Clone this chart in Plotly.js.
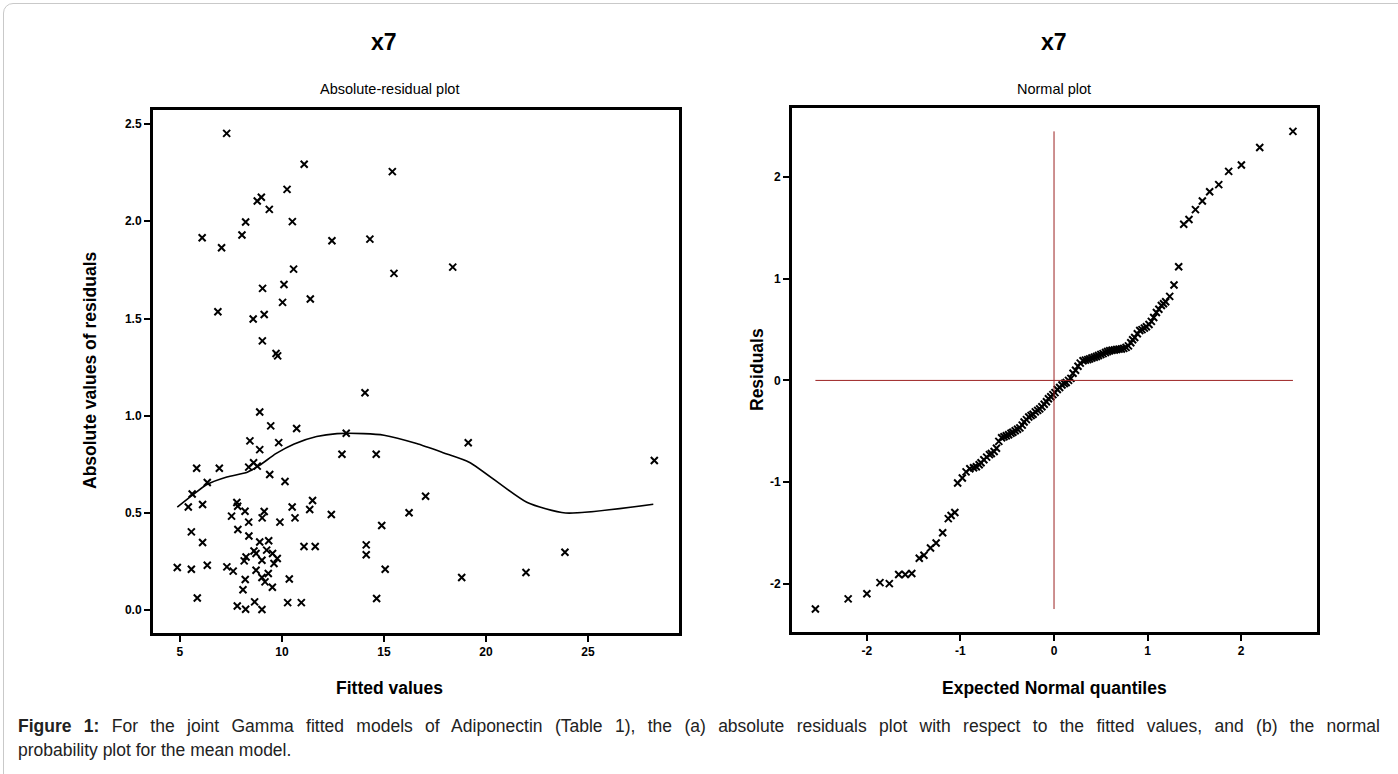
<!DOCTYPE html>
<html>
<head>
<meta charset="utf-8">
<script src="https://cdn.plot.ly/plotly-3.0.1.min.js"></script>
<style>
html,body{margin:0;padding:0;background:#fff;}
#frame{position:absolute;left:3px;top:3px;width:1500px;height:900px;border:1px solid #c9c9c9;border-radius:10px;}
#chart{position:absolute;left:0;top:0;width:1398px;height:774px;}
.cap{position:absolute;left:18px;width:1362px;font-family:'Liberation Sans',Arial,sans-serif;font-size:17.5px;line-height:24px;color:#222;white-space:nowrap;}
#cap1{top:714px;text-align:justify;text-align-last:justify;white-space:normal;}
#cap2{top:738px;}
</style>
</head>
<body>
<div id="frame"></div>
<div id="chart"></div>
<div id="cap1" class="cap"><b>Figure 1:</b> For the joint Gamma fitted models of Adiponectin (Table 1), the (a) absolute residuals plot with respect to the fitted values, and (b) the normal</div>
<div id="cap2" class="cap">probability plot for the mean model.</div>
<script>
// Panel (a): absolute residuals vs fitted values
const fittedValues = [7.29,11.09,15.41,10.25,8.79,8.99,9.38,8.22,10.51,6.09,8.04,7.04,12.45,14.31,18.37,10.57,15.49,9.05,10.10,11.39,10.03,6.86,8.59,9.13,9.04,9.71,9.79,14.07,8.91,9.45,10.72,13.15,19.13,8.43,9.84,8.91,12.94,14.62,5.82,6.93,8.37,8.61,8.79,9.40,10.15,6.34,5.60,5.41,6.11,7.79,7.83,17.04,11.50,11.36,10.50,10.64,9.13,9.03,8.19,7.53,8.37,9.90,12.42,16.23,14.89,5.56,7.84,8.38,6.11,8.91,9.35,11.08,11.63,14.13,14.13,8.63,8.73,9.25,9.54,9.77,8.24,8.15,9.02,9.61,4.87,5.56,6.34,7.30,7.61,8.73,9.33,9.02,9.17,8.20,10.36,15.06,18.81,9.53,8.09,5.85,14.64,7.81,8.22,8.66,9.02,10.28,10.95,28.25,23.87,21.96];
const absResiduals = [2.452,2.293,2.255,2.164,2.104,2.123,2.061,1.996,1.998,1.915,1.929,1.864,1.900,1.908,1.764,1.754,1.732,1.655,1.675,1.600,1.583,1.535,1.497,1.521,1.385,1.320,1.308,1.118,1.019,0.948,0.934,0.910,0.861,0.871,0.862,0.826,0.802,0.802,0.730,0.730,0.736,0.758,0.741,0.698,0.662,0.657,0.598,0.531,0.544,0.554,0.535,0.586,0.564,0.518,0.531,0.475,0.508,0.475,0.509,0.484,0.453,0.453,0.492,0.501,0.436,0.403,0.415,0.382,0.348,0.351,0.357,0.328,0.328,0.336,0.285,0.305,0.292,0.309,0.292,0.266,0.274,0.254,0.257,0.240,0.220,0.211,0.231,0.223,0.201,0.206,0.189,0.168,0.146,0.158,0.161,0.211,0.168,0.118,0.105,0.063,0.060,0.022,0.005,0.043,0.004,0.039,0.039,0.770,0.298,0.194];
// smooth (lowess) curve
const smoothX = [4.87,5.6,6.3,7.3,8.3,8.9,9.7,10.6,11.7,12.7,14.0,15.0,16.6,17.9,19.2,22.0,23.9,28.2];
const smoothY = [0.53,0.59,0.645,0.685,0.71,0.745,0.805,0.855,0.893,0.908,0.908,0.90,0.857,0.81,0.76,0.555,0.50,0.545];

// Panel (b): normal probability plot
const normalQuantiles = [-2.55,-2.20,-2.00,-1.86,-1.76,-1.66,-1.59,-1.52,-1.44,-1.39,-1.32,-1.26,-1.19,-1.13,-1.10,-1.06,-1.03,-0.98,-0.94,-0.90,-0.86,-0.83,-0.80,-0.78,-0.75,-0.72,-0.69,-0.67,-0.64,-0.615,-0.59,-0.56,-0.535,-0.51,-0.485,-0.46,-0.44,-0.415,-0.39,-0.365,-0.34,-0.32,-0.295,-0.27,-0.245,-0.224,-0.20,-0.175,-0.153,-0.13,-0.105,-0.081,-0.06,-0.035,-0.012,0.01,0.035,0.06,0.085,0.11,0.13,0.155,0.18,0.203,0.23,0.256,0.28,0.31,0.335,0.36,0.381,0.405,0.43,0.453,0.475,0.50,0.524,0.55,0.572,0.595,0.62,0.645,0.67,0.695,0.72,0.745,0.77,0.795,0.82,0.84,0.862,0.89,0.916,0.94,0.965,0.987,1.015,1.04,1.065,1.094,1.12,1.147,1.17,1.193,1.236,1.282,1.332,1.386,1.442,1.511,1.585,1.663,1.76,1.866,2.002,2.198,2.553];
const residuals = [-2.25,-2.15,-2.10,-1.99,-2.00,-1.91,-1.91,-1.90,-1.75,-1.72,-1.65,-1.60,-1.50,-1.36,-1.33,-1.30,-1.01,-0.96,-0.90,-0.87,-0.86,-0.85,-0.83,-0.81,-0.78,-0.755,-0.73,-0.72,-0.70,-0.667,-0.60,-0.565,-0.555,-0.545,-0.535,-0.52,-0.51,-0.495,-0.48,-0.467,-0.44,-0.41,-0.386,-0.36,-0.345,-0.333,-0.31,-0.295,-0.28,-0.26,-0.235,-0.21,-0.18,-0.16,-0.14,-0.12,-0.09,-0.07,-0.045,-0.03,-0.02,0.0,0.02,0.07,0.10,0.14,0.17,0.194,0.20,0.205,0.212,0.22,0.228,0.236,0.245,0.255,0.264,0.275,0.285,0.292,0.297,0.30,0.304,0.308,0.31,0.315,0.325,0.34,0.37,0.40,0.422,0.46,0.492,0.50,0.515,0.528,0.55,0.581,0.62,0.668,0.70,0.738,0.755,0.774,0.827,0.939,1.118,1.537,1.583,1.681,1.765,1.856,1.927,2.057,2.12,2.292,2.451];

const leftTicks = [5,10,15,20,25];
const leftYTicks = [0,0.5,1.0,1.5,2.0,2.5];
const leftYTickLabels = ['0.0','0.5','1.0','1.5','2.0','2.5'];
const rightTicks = [-2,-1,0,1,2];
const rightTickLabels = ['-2','-1','0','1','2'];

const FONT = 'Liberation Sans, Arial, sans-serif';
const marker = {symbol:'x-thin-open', size:7, color:'#000', line:{width:2, color:'#000'}};

const traces = [
  {x: fittedValues, y: absResiduals, type:'scatter', mode:'markers', marker: marker, xaxis:'x', yaxis:'y'},
  {x: smoothX, y: smoothY, type:'scatter', mode:'lines', line:{color:'#000', width:1.6, shape:'spline', smoothing:0.6}, xaxis:'x', yaxis:'y'},
  {x: normalQuantiles, y: residuals, type:'scatter', mode:'markers', marker: marker, xaxis:'x2', yaxis:'y2'}
];

const qMin = Math.min(...normalQuantiles), qMax = Math.max(...normalQuantiles);
const rMin = Math.min(...residuals), rMax = Math.max(...residuals);

const axisCommon = {
  showline:true, linecolor:'#000', linewidth:3, mirror:true,
  ticks:'outside', ticklen:6, tickwidth:2, tickcolor:'#000',
  showgrid:false, zeroline:false,
  tickfont:{family:FONT, size:12, color:'#000', weight:'bold'}
};

function ann(text, x, y, size, extra) {
  return Object.assign({text:text, xref:'paper', yref:'paper', x:x/1398, y:1-y/774,
    xanchor:'center', yanchor:'middle', showarrow:false, font:{family:FONT, size:size, color:'#000'}}, extra || {});
}

const layout = {
  width:1398, height:774,
  margin:{l:0,r:0,t:0,b:0},
  paper_bgcolor:'rgba(0,0,0,0)', plot_bgcolor:'#fff',
  showlegend:false,
  xaxis: Object.assign({}, axisCommon, {domain:[153/1398, 679/1398], range:[3.68,29.46], tickvals:leftTicks, anchor:'y'}),
  yaxis: Object.assign({}, axisCommon, {domain:[(774-633)/774, (774-110)/774], range:[-0.117,2.572], tickvals:leftYTicks, ticktext:leftYTickLabels, anchor:'x'}),
  xaxis2: Object.assign({}, axisCommon, {domain:[792/1398, 1317/1398], range:[-2.80,2.81], tickvals:rightTicks, ticktext:rightTickLabels, anchor:'y2'}),
  yaxis2: Object.assign({}, axisCommon, {domain:[(774-632)/774, (774-108)/774], range:[-2.476,2.681], tickvals:rightTicks, ticktext:rightTickLabels, anchor:'x2'}),
  shapes:[
    {type:'line', xref:'x2', yref:'y2', x0:qMin, x1:qMax, y0:0, y1:0, line:{color:'#9b2222', width:1}},
    {type:'line', xref:'x2', yref:'y2', x0:0, x1:0, y0:rMin, y1:rMax, line:{color:'#9b2222', width:1}}
  ],
  annotations:[
    ann('<b>x7</b>', 384, 42, 23),
    ann('<b>x7</b>', 1054, 42, 23),
    ann('Absolute-residual plot', 390, 89, 14.5),
    ann('Normal plot', 1054, 89, 14.5),
    ann('<b>Fitted values</b>', 389, 688, 17.5),
    ann('<b>Expected Normal quantiles</b>', 1054, 688, 17.5),
    ann('<b>Absolute values of residuals</b>', 90, 370, 17.5, {textangle:-90}),
    ann('<b>Residuals</b>', 757, 370, 17.5, {textangle:-90})
  ]
};

Plotly.newPlot('chart', traces, layout, {displayModeBar:false, staticPlot:true});
</script>
</body>
</html>
